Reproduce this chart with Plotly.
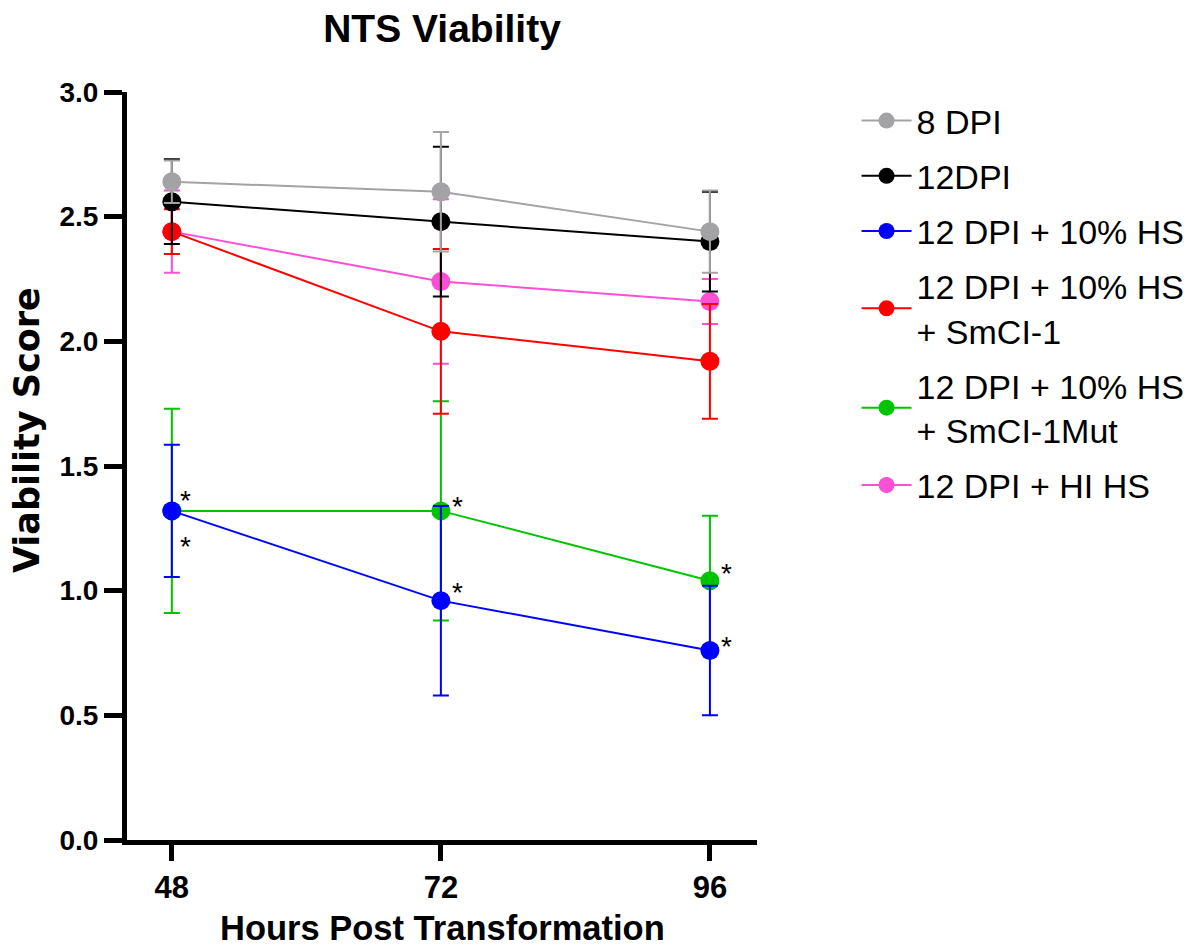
import plotly.graph_objects as go

# Time points (hours post transformation)
hours = [48, 72, 96]

# Group means and standard deviations
dpi8_mean = [2.64, 2.60, 2.44]
dpi8_sd = [0.085, 0.24, 0.165]

dpi12_mean = [2.56, 2.48, 2.40]
dpi12_sd = [0.17, 0.30, 0.20]

hs_mean = [1.32, 0.96, 0.76]
hs_sd = [0.265, 0.38, 0.26]

smci_mean = [2.44, 2.04, 1.92]
smci_sd = [0.09, 0.33, 0.23]

mut_mean = [1.32, 1.32, 1.04]
mut_sd = [0.41, 0.44, 0.26]

hihs_mean = [2.44, 2.24, 2.16]
hihs_sd = [0.165, 0.33, 0.09]

series_names = [
    "8 DPI",
    "12DPI",
    "12 DPI + 10% HS",
    "12 DPI + 10% HS<br>+ SmCI-1",
    "12 DPI + 10% HS<br>+ SmCI-1Mut",
    "12 DPI + HI HS",
]
series_colors = ["#A3A3A5", "#000000", "#0000FF", "#FF0000", "#00C400", "#FA50D8"]
series_means = [dpi8_mean, dpi12_mean, hs_mean, smci_mean, mut_mean, hihs_mean]
series_sds = [dpi8_sd, dpi12_sd, hs_sd, smci_sd, mut_sd, hihs_sd]

# Significance markers: (series index, hour index, x shift px, y shift px)
sig_marks = [
    (2, 0, 14, 10),
    (2, 0, 14, -36),
    (4, 1, 17, 4),
    (2, 1, 17, 8),
    (4, 2, 17, 7),
    (2, 2, 17, 4),
]

FONT = "Liberation Sans, Arial, sans-serif"
WIDE_BOLD = "DejaVu Sans, Liberation Sans, sans-serif"

fig = go.Figure()

# First group drawn last so it sits on top
for i in reversed(range(len(series_names))):
    fig.add_trace(
        go.Scatter(
            x=hours,
            y=series_means[i],
            name=series_names[i],
            legendgroup=f"g{i}",
            legendrank=i + 1,
            mode="lines+markers",
            line=dict(color=series_colors[i], width=2),
            marker=dict(color=series_colors[i], size=19),
            error_y=dict(
                type="data",
                array=series_sds[i],
                visible=True,
                color=series_colors[i],
                thickness=2,
                width=8,
            ),
        )
    )

for si, hi, dx, dy in sig_marks:
    fig.add_annotation(
        x=hours[hi],
        y=series_means[si][hi],
        text="*",
        showarrow=False,
        xanchor="center",
        yanchor="middle",
        xshift=dx,
        yshift=dy,
        font=dict(family=FONT, size=28, color="black"),
    )

# Axis titles
fig.add_annotation(
    text="<b>Hours Post Transformation</b>",
    xref="paper", yref="paper",
    x=0.5, y=-0.118,
    xanchor="center", yanchor="middle",
    showarrow=False,
    font=dict(family=FONT, size=34.5, color="black"),
)
fig.add_annotation(
    text="<b>Viability Score</b>",
    xref="paper", yref="paper",
    x=-0.1587, y=0.548,
    xanchor="center", yanchor="middle",
    textangle=-90,
    showarrow=False,
    font=dict(family=WIDE_BOLD, size=35, color="black"),
)

fig.update_layout(
    width=1202,
    height=951,
    paper_bgcolor="white",
    plot_bgcolor="white",
    margin=dict(l=127, r=445, t=92, b=111, autoexpand=False),
    title=dict(
        text="<b>NTS Viability</b>",
        x=442 / 1202,
        xanchor="center",
        y=1 - 28 / 951,
        yanchor="middle",
        font=dict(family=FONT, size=39, color="black"),
    ),
    legend=dict(
        x=1.158,
        y=1.0,
        xanchor="left",
        yanchor="top",
        traceorder="grouped",
        tracegroupgap=8,
        font=dict(family=FONT, size=34, color="black"),
        itemwidth=50,
        bgcolor="rgba(0,0,0,0)",
    ),
    xaxis=dict(
        range=[44, 100.2],
        tickvals=hours,
        ticktext=[str(h) for h in hours],
        showline=True,
        linecolor="black",
        linewidth=5,
        ticks="outside",
        ticklen=16,
        tickwidth=5,
        tickcolor="black",
        showgrid=False,
        zeroline=False,
        automargin=False,
        tickfont=dict(family=FONT, size=31, color="black", weight="bold"),
    ),
    yaxis=dict(
        range=[0, 3],
        tickvals=[0, 0.5, 1.0, 1.5, 2.0, 2.5, 3.0],
        ticktext=["0.0", "0.5", "1.0", "1.5", "2.0", "2.5", "3.0"],
        showline=True,
        linecolor="black",
        linewidth=5,
        ticks="outside",
        ticklen=18,
        tickwidth=5,
        tickcolor="black",
        showgrid=False,
        zeroline=False,
        automargin=False,
        tickfont=dict(family=FONT, size=28, color="black", weight="bold"),
    ),
)

fig.write_html("out.html")
